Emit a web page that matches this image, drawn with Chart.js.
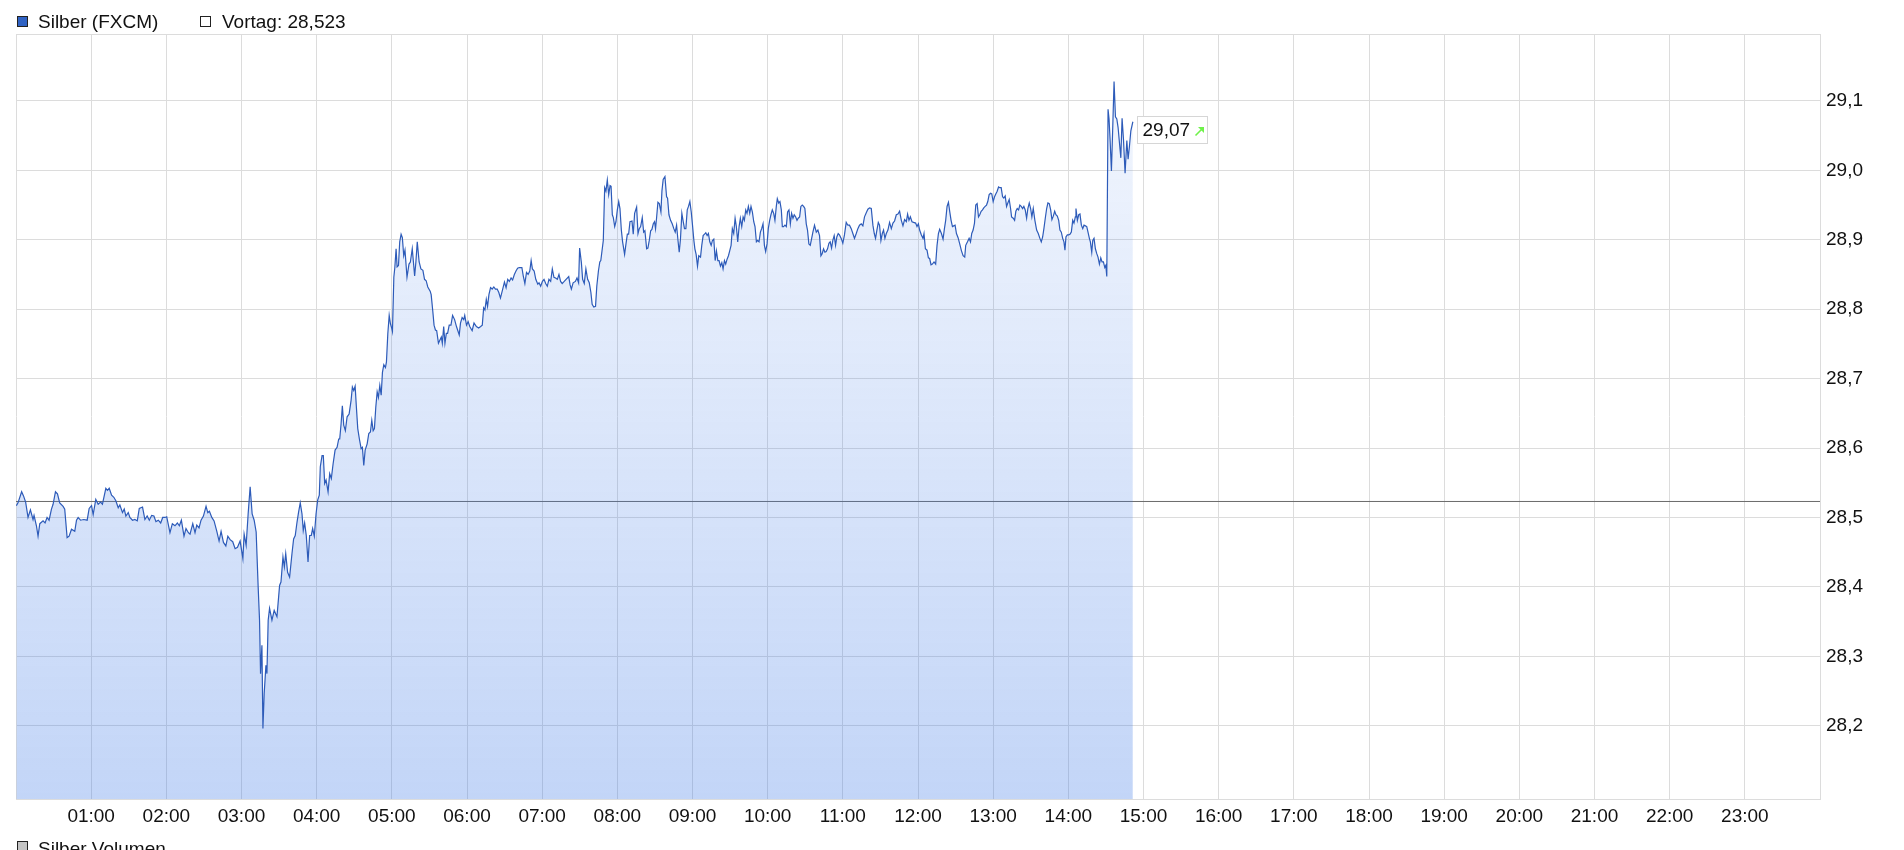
<!DOCTYPE html>
<html>
<head>
<meta charset="utf-8">
<title>Silber (FXCM)</title>
<script src="https://cdn.jsdelivr.net/npm/chart.js@4.4.1/dist/chart.umd.min.js"></script>
<style>
  html, body { margin: 0; padding: 0; background: #fff; overflow: hidden; }
  body { position: relative; width: 1904px; height: 850px; font-family: "Liberation Sans", Arial, sans-serif; }
  canvas { position: absolute; left: 0; top: 0; }
  .lg-box { position: absolute; width: 9px; height: 9px; border: 1px solid #222; }
  .lg-text { position: absolute; font-size: 19px; line-height: 19px; color: #111; white-space: nowrap; }
</style>
</head>
<body>
<canvas id="chart" width="1904" height="850"></canvas>

<span class="lg-box" style="left:17px;top:16px;background:#3063c4"></span>
<span class="lg-text" style="left:38px;top:12px">Silber (FXCM)</span>
<span class="lg-box" style="left:200px;top:16px;background:#fff"></span>
<span class="lg-text" style="left:222px;top:12px">Vortag: 28,523</span>

<span class="lg-box" style="left:17px;top:841px;background:#c4c4c4"></span>
<span class="lg-text" style="left:38px;top:839px">Silber Volumen</span>

<script>
"use strict";

// minutes since midnight
var times = [
    0.3,1.6,4.5,6,7.7,9.6,11.5,13.6,14.4,16.3,
    17.6,19,21.6,23.2,24.8,26.4,28.3,29.6,31.5,33.1,
    34.9,37.6,38.9,40.8,42.4,44.3,46.9,48.3,49.6,51.5,
    54.1,56.8,58.4,60.3,61.6,63.7,65.6,67.5,69,71.7,
    73,74.4,76.3,78.1,79.7,81.6,82.9,85,86.4,87.7,
    89.6,90.9,93,94.9,96.8,98.4,101,102.9,104.7,106.4,
    108.3,110.1,111.7,113.6,115.5,117.1,118.9,120.3,122.9,124.8,
    126.9,128.8,130.4,132,134.1,135.7,137.6,138.9,141.1,142.9,
    144.3,146.1,147.7,149.6,151.7,153.1,154.4,156.3,158.1,160.3,
    162.1,163.7,165.6,167.5,169.1,170.9,
    173,174.9,176.8,178.9,181.1,182.1,183.7,185.3,186.9,188.5,
    190.1,191.7,193.3,194.4,195.2,196.3,197.1,198.1,199.5,200.3,
    201.3,202.4,204.3,206.1,208.3,210.4,211.5,213.1,214.2,215.3,
    216.8,218.4,220.3,221.6,222.9,224.3,225.6,226.9,228.3,229.3,
    230.4,231.7,233.1,234.4,235.7,236.8,238.1,239.5,240.8,242.1,
    242.9,244.3,245.3,246.4,247.5,249.1,250.4,251.7,253.1,254.7,
    256.3,257.6,258.4,259.5,260.5,261.6,262.9,264.3,265.9,267.5,
    268.5,269.6,270.7,271.7,272.8,274.1,275.5,276.5,277.6,278.7,
    280.3,281.6,282.9,284,285.1,286.1,287.2,288.3,289.3,290.4,
    291.5,292.5,293.6,294.9,295.7,296.8,297.9,298.9,300,
    300.5,301.6,302.4,303.4,304.2,305.3,306.3,307.4,308.4,309.5,
    310.5,312.1,313.7,314.8,316.3,318.2,319.2,320.3,321.8,323.2,
    324.8,326.1,327.4,328.7,330.6,331.4,332.7,333.7,334.8,335.8,
    337.2,338.5,339.5,340.3,341.4,342.4,343.5,344.5,345.8,347.2,
    348.5,350.1,351.6,353.8,354.8,356.1,357.4,358.2,359.6,360.9,
    362.2,364.1,365.6,367.5,369.3,370.9,372.2,373.3,374.3,375.4,
    376.4,377.5,378.8,380.1,381.4,382.7,384.1,385.4,386.7,388.5,
    389.9,391.2,392.5,393.8,395.2,396.4,397.8,399.1,400.4,401.7,
    403.8,404.9,406.2,407.5,408.8,410.1,411.2,412.2,413.6,414.9,
    416.5,417.5,418.8,420.2,421.5,422.8,424.1,425.4,426.8,428.1,
    429.4,430.7,432.1,433.4,434.7,436,437.6,439.1,441.2,442.3,
    443.3,444.7,446.5,447.8,449.1,449.9,451.3,452.3,453.6,454.9,
    456.3,457.6,458.9,459.9,461.2,462.6,463.6,464.9,466,466.8,
    468.8,469.9,470.9,472,473.1,474.2,475,476,476.8,477.9,
    478.9,480,481.1,482.1,483.2,484.2,485.8,486.9,488,489,
    490.1,491.7,492.7,493.8,495.4,496.5,497.5,498.6,499.9,501,
    502,503.4,504.4,505.5,506.6,507.6,508.7,509.7,510.5,511.3,
    512.4,513.5,514.8,515.6,516.6,518,519.3,520.1,521.2,522.5,
    523.8,525.1,526.2,527.3,528.3,529.4,530.4,531.5,532.6,533.6,
    534.7,535.8,536.8,537.9,539,540,541.1,541.9,542.9,544,
    545,546.4,547.4,548.5,549.6,550.6,551.7,552.7,553.8,554.9,
    555.9,557,558.1,559.1,560.2,561.2,562.3,563.4,564.4,565.5,
    566.5,567.6,568.7,569.7,570.8,571.8,572.9,574,575,576.1,
    577.2,578.2,579.3,580.4,581.4,582.5,583.5,584.6,585.7,586.7,
    587.8,588.9,589.9,591,592,593.1,594.2,595.2,596.3,597.4,
    598.4,599.5,600.5,601.6,602.6,603.7,604.8,605.8,606.9,607.7,
    608.8,609.8,610.9,611.7,612.7,613.8,614.9,615.9,617,618.1,
    619.1,620.2,621.2,622.3,623.4,624.4,625.5,626.5,627.6,628.7,
    629.7,630.8,631.8,632.9,634,635,636.1,637.4,638.8,640.1,
    641.4,642.5,643.5,644.6,645.7,646.7,647.8,648.9,649.9,651,
    652,653.1,654.2,655.2,656.3,
    657.3,658.7,660,661.3,662.7,664,665.3,666.7,668,669.3,
    670.7,672,673.3,674.7,676,677.3,678.7,680,681.3,682.7,
    684,685.1,686.1,687.2,688.3,689.3,690.4,691.5,692.5,693.6,
    694.7,696,697.3,698.7,700,701.3,702.7,704,705.3,706.7,
    708,709.3,710.7,711.7,712.8,713.9,715.2,716.5,718.1,719.2,
    720.3,721.3,722.7,724,724.8,725.9,727.2,728.3,729.3,730.4,
    731.5,732.8,734.1,735.2,736.3,737.3,738.7,740,741.1,742.1,
    743.2,744.3,745.3,746.4,747.5,748.5,749.6,750.7,752,753.3,
    754.7,756,757.3,758.1,759.5,760.8,761.9,762.9,764,765.1,
    766.1,767.2,768.3,769.3,770.4,771.5,772.5,773.6,774.7,775.7,
    776.8,777.9,778.9,780,781.1,782.1,783.2,784.3,785.3,786.4,
    787.5,788.5,789.6,790.7,791.7,792.8,793.9,794.7,796,797.1,
    798.1,799.2,800.3,801.3,802.4,803.5,804.5,805.6,806.7,807.7,
    808.8,809.9,810.9,812,813.3,814.7,816,817.3,818.4,819.5,
    820.5,821.6,822.7,823.7,824.8,825.9,826.9,828,829.1,830.1,
    831.2,832.3,833.3,834.4,835.5,836.5,837.3,838.1,839.2,840.3,
    841.3,842.4,843.5,844.5,845.6,846.1,847.2,848.3,849.3,850.4,
    851.5,852.5,853.6,854.7,855.7,856.8,857.6,858.7,859.5,860.5,
    861.6,862.7,863.7,864.8,865.9,866.9,868,869.1,869.9,870.7,
    871.7,872.5,873.3,874.4,875.5,876.5,877.6,878.7,879.7,
    880.8,881.9,882.9,884,885.3,886.7,887.7,888.8,889.9,891.5
];

var prices = [
    28.517,28.521,28.537,28.531,28.522,28.500,28.511,28.497,28.503,28.488,
    28.473,28.491,28.495,28.492,28.500,28.496,28.512,28.519,28.537,28.534,
    28.521,28.516,28.512,28.471,28.473,28.483,28.480,28.496,28.500,28.496,
    28.497,28.496,28.513,28.517,28.504,28.526,28.519,28.522,28.519,28.542,
    28.539,28.542,28.532,28.529,28.524,28.514,28.518,28.507,28.512,28.502,
    28.507,28.500,28.496,28.497,28.495,28.513,28.515,28.497,28.502,28.496,
    28.503,28.502,28.494,28.496,28.492,28.500,28.500,28.501,28.478,28.491,
    28.488,28.492,28.488,28.496,28.473,28.484,28.478,28.476,28.491,28.478,
    28.489,28.485,28.496,28.502,28.516,28.507,28.509,28.500,28.495,28.480,
    28.466,28.480,28.464,28.459,28.473,28.468,
    28.465,28.455,28.457,28.466,28.441,28.476,28.460,28.505,28.544,28.505,
    28.496,28.479,28.400,28.352,28.275,28.316,28.196,28.246,28.287,28.275,
    28.352,28.369,28.352,28.366,28.357,28.402,28.407,28.443,28.429,28.448,
    28.421,28.414,28.448,28.469,28.474,28.493,28.508,28.521,28.505,28.481,
    28.492,28.474,28.436,28.474,28.474,28.484,28.473,28.505,28.525,28.532,
    28.573,28.589,28.589,28.549,28.554,28.537,28.563,28.556,28.577,28.597,
    28.601,28.613,28.613,28.635,28.661,28.633,28.625,28.645,28.649,28.669,
    28.688,28.683,28.689,28.659,28.628,28.613,28.599,28.601,28.575,28.597,
    28.606,28.621,28.623,28.640,28.625,28.628,28.659,28.681,28.673,28.690,
    28.676,28.709,28.720,28.716,28.724,28.765,28.791,28.779,28.772,
    28.768,28.846,28.860,28.887,28.861,28.863,28.897,28.908,28.903,28.877,
    28.885,28.846,28.865,28.868,28.887,28.848,28.868,28.897,28.868,28.858,
    28.856,28.843,28.841,28.832,28.826,28.821,28.797,28.777,28.770,28.769,
    28.751,28.756,28.760,28.751,28.775,28.751,28.765,28.765,28.777,28.777,
    28.791,28.785,28.775,28.763,28.780,28.788,28.785,28.791,28.777,28.782,
    28.775,28.769,28.780,28.775,28.773,28.775,28.777,28.802,28.799,28.814,
    28.804,28.821,28.831,28.829,28.832,28.829,28.829,28.824,28.816,28.829,
    28.839,28.831,28.843,28.840,28.845,28.842,28.850,28.855,28.859,28.860,
    28.860,28.848,28.837,28.853,28.850,28.855,28.870,28.858,28.855,28.843,
    28.836,28.838,28.833,28.840,28.843,28.837,28.833,28.843,28.840,28.858,
    28.846,28.845,28.843,28.850,28.840,28.837,28.840,28.843,28.847,28.835,
    28.829,28.838,28.840,28.845,28.838,28.888,28.867,28.843,28.837,28.858,
    28.843,28.838,28.824,28.807,28.803,28.804,28.833,28.855,28.868,28.870,
    28.899,28.975,28.970,28.986,28.965,28.978,28.977,28.936,28.932,28.919,
    28.926,28.943,28.955,28.945,28.914,28.897,28.879,28.894,28.908,28.908,
    28.926,28.927,28.908,28.938,28.947,28.909,28.916,28.919,28.932,28.911,
    28.913,28.887,28.888,28.899,28.913,28.915,28.923,28.926,28.916,28.931,
    28.954,28.952,28.940,28.970,28.987,28.991,28.962,28.960,28.936,28.928,
    28.923,28.916,28.911,28.921,28.901,28.882,28.901,28.938,28.926,28.916,
    28.916,28.943,28.948,28.955,28.940,28.921,28.899,28.887,28.879,28.862,
    28.877,28.875,28.892,28.906,28.908,28.910,28.906,28.909,28.897,28.892,
    28.899,28.901,28.870,28.884,28.870,28.870,28.862,28.867,28.858,28.870,
    28.865,28.872,28.877,28.884,28.892,28.916,28.909,28.931,28.919,28.897,
    28.919,28.931,28.919,28.933,28.928,28.943,28.938,28.948,28.938,28.948,
    28.940,28.926,28.919,28.897,28.899,28.897,28.911,28.916,28.923,28.892,
    28.883,28.894,28.916,28.928,28.936,28.943,28.938,28.928,28.948,28.959,
    28.953,28.955,28.943,28.919,28.919,28.921,28.919,28.940,28.943,28.923,
    28.938,28.931,28.936,28.933,28.928,28.931,28.933,28.948,28.950,28.948,
    28.945,28.923,28.914,28.894,28.892,28.901,28.911,28.921,28.911,28.914,
    28.906,28.877,28.880,28.887,28.882,28.883,28.887,28.895,28.897,28.888,
    28.899,28.906,28.892,28.904,28.909,
    28.907,28.902,28.895,28.907,28.925,28.921,28.921,28.916,28.909,28.902,
    28.909,28.916,28.921,28.923,28.920,28.933,28.939,28.944,28.946,28.945,
    28.921,28.909,28.902,28.914,28.925,28.921,28.899,28.909,28.914,28.902,
    28.909,28.914,28.925,28.916,28.924,28.927,28.936,28.937,28.941,28.928,
    28.920,28.929,28.926,28.937,28.928,28.933,28.926,28.925,28.924,28.919,
    28.923,28.914,28.907,28.902,28.909,28.887,28.885,28.874,28.873,28.864,
    28.865,28.868,28.865,28.892,28.909,28.915,28.909,28.901,28.916,28.928,
    28.948,28.954,28.941,28.928,28.919,28.920,28.921,28.909,28.903,28.894,
    28.884,28.877,28.875,28.892,28.897,28.902,28.897,28.909,28.914,28.924,
    28.950,28.952,28.933,28.936,28.941,28.943,28.946,28.948,28.950,28.955,
    28.965,28.967,28.966,28.955,28.962,28.966,28.970,28.976,28.975,28.975,
    28.962,28.960,28.963,28.948,28.953,28.958,28.945,28.933,28.931,28.928,
    28.941,28.945,28.943,28.950,28.948,28.945,28.948,28.943,28.931,28.945,
    28.953,28.945,28.933,28.945,28.928,28.914,28.909,28.902,28.897,28.904,
    28.916,28.931,28.945,28.953,28.952,28.943,28.929,28.934,28.941,28.936,
    28.934,28.928,28.914,28.911,28.902,28.897,28.885,28.904,28.907,28.907,
    28.908,28.911,28.928,28.924,28.933,28.945,28.928,28.936,28.937,28.921,
    28.916,28.921,28.920,28.919,28.911,28.902,28.897,28.882,28.899,28.902,
    28.887,28.880,28.875,28.865,28.874,28.868,28.868,28.860,28.863,28.847,
    29.088,29.074,29.045,28.999,29.065,29.128,29.077,29.074,29.062,
    29.040,29.018,29.075,29.045,28.996,29.043,29.016,29.035,29.057,29.070
];

var prevClose = 28.523;

var hourTicks = [0,60,120,180,240,300,360,420,480,540,600,660,720,780,840,900,960,1020,1080,1140,1200,1260,1320,1380,1440];
var hourLabels = ['','01:00','02:00','03:00','04:00','05:00','06:00','07:00','08:00','09:00','10:00','11:00','12:00',
                  '13:00','14:00','15:00','16:00','17:00','18:00','19:00','20:00','21:00','22:00','23:00',''];
var priceTicks = [28.2,28.3,28.4,28.5,28.6,28.7,28.8,28.9,29.0,29.1];

var yMin = 28.0944;
var yMax = 29.1964;

var series = times.map(function (t, i) { return { x: t, y: prices[i] }; });

var gridColor = '#dcdcdc';
var tickFont = { family: '"Liberation Sans", Arial, sans-serif', size: 19 };

function areaFill (context) {
    var chart = context.chart;
    var area = chart.chartArea;
    if (!area) {
        return 'rgba(60,120,230,0.2)';
    }
    var g = chart.ctx.createLinearGradient(0, area.top, 0, area.bottom);
    g.addColorStop(0, 'rgba(60,120,230,0.05)');
    g.addColorStop(1, 'rgba(60,120,230,0.31)');
    return g;
}

// little box with the last price next to the end of the line
var lastPriceBox = {
    id: 'lastPriceBox',
    afterDatasetsDraw: function (chart) {
        var meta = chart.getDatasetMeta(0);
        var pt = meta.data[meta.data.length - 1];
        var c = chart.ctx;
        var bx = Math.round(pt.x) + 4.5;
        var by = Math.round(pt.y) - 5.5;
        var w = 70, h = 27;
        c.save();
        c.fillStyle = '#fff';
        c.strokeStyle = '#d6d6d6';
        c.lineWidth = 1;
        c.fillRect(bx, by, w, h);
        c.strokeRect(bx, by, w, h);
        c.fillStyle = '#111';
        c.font = '19px "Liberation Sans", Arial, sans-serif';
        c.textBaseline = 'middle';
        c.textAlign = 'left';
        c.fillText(prices[prices.length - 1].toFixed(2).replace('.', ','), bx + 5, by + h / 2 + 1);
        // green up arrow
        c.strokeStyle = '#6ff24a';
        c.fillStyle = '#6ff24a';
        c.lineWidth = 1.6;
        c.beginPath();
        c.moveTo(bx + 58, by + 19);
        c.lineTo(bx + 64, by + 13);
        c.stroke();
        c.beginPath();
        c.moveTo(bx + 66.5, by + 10.5);
        c.lineTo(bx + 66.5, by + 16.5);
        c.lineTo(bx + 60.5, by + 10.5);
        c.closePath();
        c.fill();
        c.restore();
    }
};

var ctx = document.getElementById('chart');

var chart = new Chart(ctx, {
    type: 'line',
    data: {
        datasets: [
            {
                label: 'Silber (FXCM)',
                data: series,
                borderColor: '#2d5bb9',
                borderWidth: 1.2,
                backgroundColor: areaFill,
                fill: 'start',
                pointRadius: 0,
                tension: 0
            },
            {
                label: 'Vortag',
                data: [{ x: hourTicks[0], y: prevClose }, { x: hourTicks[hourTicks.length - 1], y: prevClose }],
                borderColor: '#6a6a6a',
                borderWidth: 1,
                pointRadius: 0,
                fill: false
            }
        ]
    },
    options: {
        responsive: false,
        animation: false,
        devicePixelRatio: 1,
        layout: { padding: { left: 16, top: 34, right: 0, bottom: 0 } },
        plugins: {
            legend: { display: false },
            tooltip: { enabled: false }
        },
        scales: {
            x: {
                type: 'linear',
                min: 0,
                max: 1440,
                afterBuildTicks: function (scale) {
                    scale.ticks = hourTicks.map(function (v) { return { value: v }; });
                },
                afterFit: function (scale) { scale.height = 51; },
                ticks: {
                    autoSkip: false,
                    maxRotation: 0,
                    padding: 6,
                    color: '#111',
                    font: tickFont,
                    callback: function (value) {
                        var i = hourTicks.indexOf(value);
                        return i >= 0 ? hourLabels[i] : '';
                    }
                },
                grid: { color: gridColor, drawTicks: false },
                border: { color: gridColor }
            },
            y: {
                position: 'right',
                min: yMin,
                max: yMax,
                afterBuildTicks: function (scale) {
                    var vals = [yMin].concat(priceTicks, [yMax]);
                    scale.ticks = vals.map(function (v) { return { value: v }; });
                },
                afterFit: function (scale) { scale.width = 84; },
                ticks: {
                    padding: 6,
                    color: '#111',
                    font: tickFont,
                    callback: function (value) {
                        return priceTicks.indexOf(value) >= 0 ? value.toFixed(1).replace('.', ',') : '';
                    }
                },
                grid: { color: gridColor, drawTicks: false },
                border: { color: gridColor }
            }
        }
    },
    plugins: [lastPriceBox]
});
</script>
</body>
</html>
